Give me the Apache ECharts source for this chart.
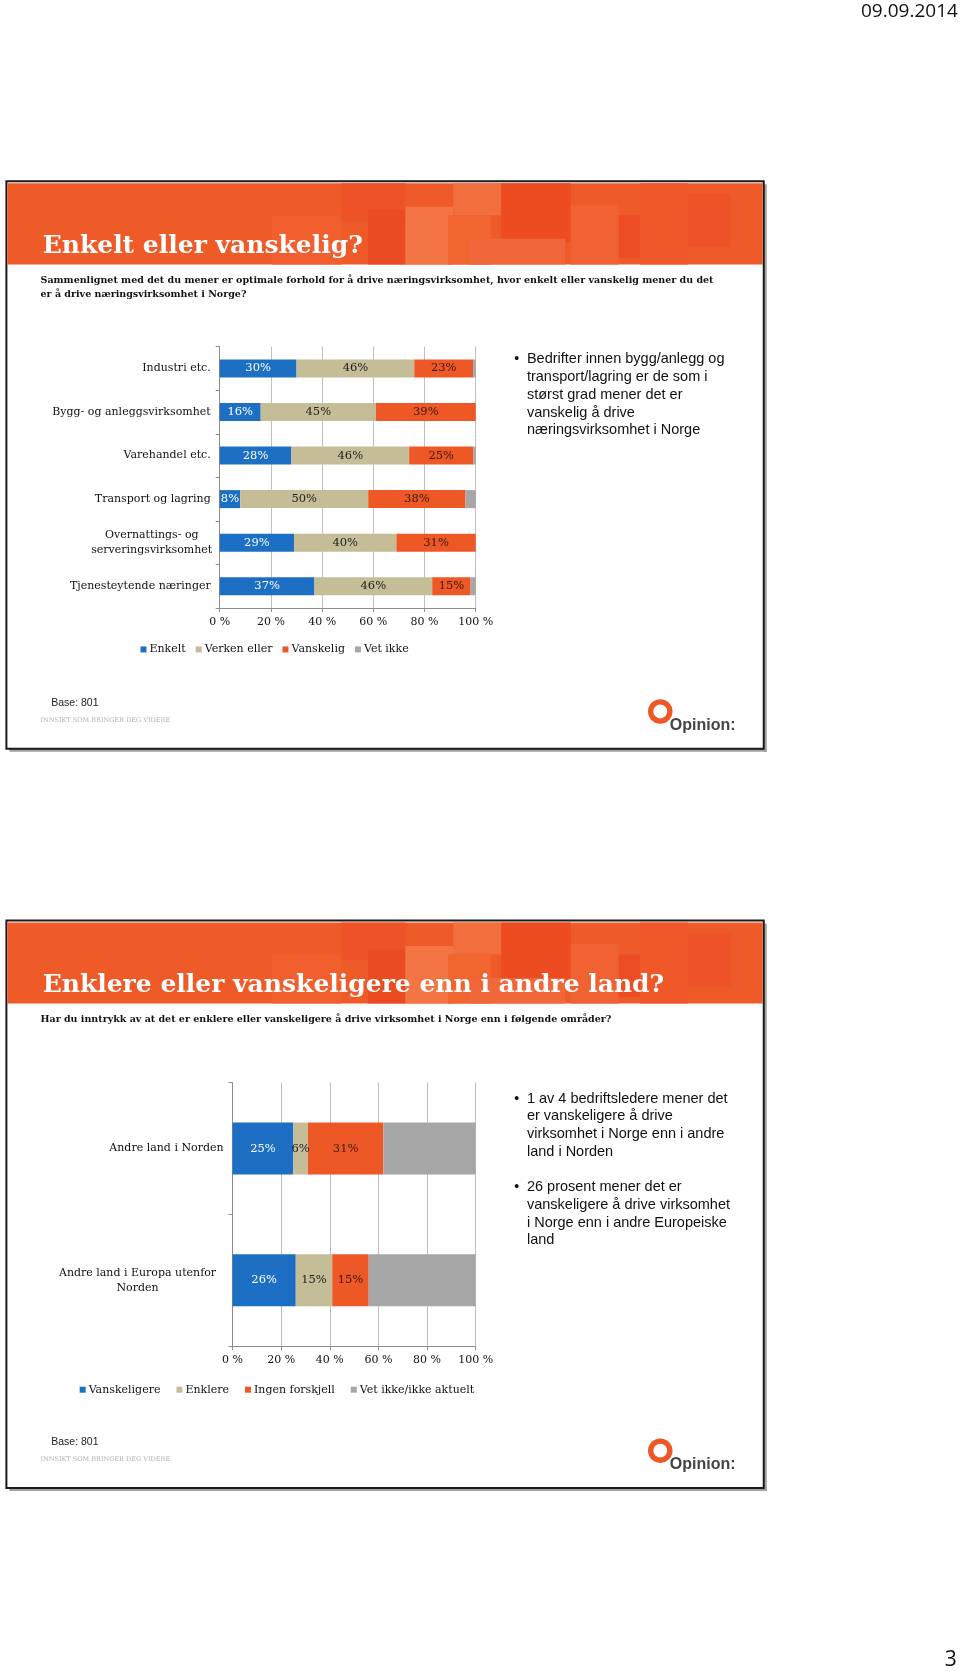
<!DOCTYPE html>
<html><head><meta charset="utf-8">
<script src="https://cdn.jsdelivr.net/npm/echarts@6/dist/echarts.min.js"></script>
<style>html,body{margin:0;padding:0;background:#fff}#c{width:960px;height:1672px}</style>
</head><body><div id="c"></div>
<script>
// ---- Chart 1 data ----
const cats1 = ['Industri etc.', 'Bygg- og anleggsvirksomhet', 'Varehandel etc.', 'Transport og lagring', 'Overnattings- og\nserveringsvirksomhet', 'Tjenesteytende næringer'];
const enkelt1 = [30, 16, 28, 8, 29, 37];
const verken1 = [46, 45, 46, 50, 40, 46];
const vansk1 = [23, 39, 25, 38, 31, 15];
const vetikke1 = [1, 0, 1, 4, 0, 2];
const names1 = ['Enkelt', 'Verken eller', 'Vanskelig', 'Vet ikke'];
// ---- Chart 2 data ----
const cats2 = ['Andre land i Norden', 'Andre land i Europa utenfor\nNorden'];
const vanskeligere2 = [25, 26];
const enklere2 = [6, 15];
const ingen2 = [31, 15];
const vetikke2 = [38, 44];
const names2 = ['Vanskeligere', 'Enklere', 'Ingen forskjell', 'Vet ikke/ikke aktuelt'];
const tickValues = [0, 20, 40, 60, 80, 100];

const COLORS = ['#1C6FC2', '#C4BD97', '#EE5826', '#A6A6A6'];
const SERIF = '"DejaVu Serif", "Liberation Serif", serif';
const SANS = '"Liberation Sans", Arial, sans-serif';
const K = 960 / 900;
const s = v => v * K;

const chart = echarts.init(document.getElementById('c'), null, {renderer: 'canvas'});

function slideGraphics(y0, title, subLines) {
  const g = [];
  const W = s(710), H = s(532), X = s(6), Y = s(y0);
  g.push({type: 'rect', shape: {x: X + 3, y: Y + H, width: W, height: 3}, style: {fill: '#a0a0a0'}, z: 0});
  g.push({type: 'rect', shape: {x: X + W, y: Y + 3, width: 3, height: H}, style: {fill: '#a0a0a0'}, z: 0});
  g.push({type: 'rect', shape: {x: X, y: Y, width: W, height: H}, style: {fill: 'none', stroke: '#1a1a1a', lineWidth: 2}, z: 1});
  const hy = Y + 2;
  g.push({type: 'rect', shape: {x: X + 1, y: hy, width: W - 2, height: s(76)}, style: {fill: '#EF5A29'}, z: 2});
  const tiles = [
    [320, 0, 60, 35, '#ED5326'], [345, 25, 35, 51, '#EA4B20'], [380, 22, 45, 54, '#F37544'],
    [425, 0, 45, 30, '#F26E3C'], [420, 30, 40, 46, '#F1652F'], [470, 0, 65, 55, '#EC4C20'],
    [535, 20, 45, 56, '#F06232'], [580, 30, 30, 40, '#EC4D22'], [600, 0, 45, 76, '#F0582A'],
    [645, 10, 40, 50, '#ED5326'], [255, 30, 65, 46, '#F05F2D'], [440, 52, 90, 24, '#F1673A']
  ];
  tiles.forEach(t => g.push({type: 'rect', shape: {x: s(t[0]), y: hy + s(t[1]), width: s(t[2]), height: s(t[3])}, style: {fill: t[4]}, z: 3}));
  g.push({type: 'text', x: s(40), y: hy + s(59), style: {text: title, font: 'bold 25px ' + SERIF, fill: '#fff', verticalAlign: 'middle'}, z: 5});
  subLines.forEach((t, i) => g.push({type: 'text', x: s(38), y: s(y0 + 93 + i * 13), style: {text: t, font: 'bold 9.5px ' + SERIF, fill: '#111', verticalAlign: 'middle'}, z: 5}));
  return g;
}
function footer(yb) {
  return [
    {type: 'text', x: s(48), y: s(yb), style: {text: 'Base: 801', font: '10.5px ' + SANS, fill: '#222', verticalAlign: 'middle'}, z: 5},
    {type: 'text', x: s(38), y: s(yb + 16), style: {text: 'INNSIKT SOM BRINGER DEG VIDERE', font: '6.5px ' + SERIF, fill: '#b0b0b0', verticalAlign: 'middle'}, z: 5},
    {type: 'ring', shape: {cx: s(619), cy: s(yb + 8), r: s(11.5), r0: s(6.5)}, style: {fill: '#EE5826'}, z: 5},
    {type: 'text', x: s(628), y: s(yb + 21), style: {text: 'Opinion:', font: 'bold 16px ' + SANS, fill: '#444', verticalAlign: 'middle'}, z: 6}
  ];
}
function bullets(x, y, groups) {
  const g = [];
  let yy = y;
  groups.forEach(lines => {
    g.push({type: 'text', x: s(x), y: s(yy), style: {text: '•', font: '14px ' + SANS, fill: '#111', verticalAlign: 'middle'}, z: 5});
    lines.forEach((l, i) => g.push({type: 'text', x: s(x + 12), y: s(yy + i * 16.6), style: {text: l, font: '14.5px ' + SANS, fill: '#111', verticalAlign: 'middle'}, z: 5}));
    yy += lines.length * 16.6 + 16.6;
  });
  return g;
}

let graphics = [];
graphics = graphics.concat(slideGraphics(170, 'Enkelt eller vanskelig?', [
  'Sammenlignet med det du mener er optimale forhold for å drive næringsvirksomhet, hvor enkelt eller vanskelig mener du det',
  'er å drive næringsvirksomhet i Norge?']));
graphics = graphics.concat(slideGraphics(863, 'Enklere eller vanskeligere enn i andre land?', [
  'Har du inntrykk av at det er enklere eller vanskeligere å drive virksomhet i Norge enn i følgende områder?']));
graphics = graphics.concat(footer(659), footer(1352));
graphics = graphics.concat(bullets(482, 337, [['Bedrifter innen bygg/anlegg og', 'transport/lagring er de som i', 'størst grad mener det er', 'vanskelig å drive', 'næringsvirksomhet i Norge']]));
graphics = graphics.concat(bullets(482, 1030, [
  ['1 av 4 bedriftsledere mener det', 'er vanskeligere å drive', 'virksomhet i Norge enn i andre', 'land i Norden'],
  ['26 prosent mener det er', 'vanskeligere å drive virksomhet', 'i Norge enn i andre Europeiske', 'land']]));
graphics.push({type: 'text', x: s(898), y: s(11), style: {text: '09.09.2014', font: '19px "Open Sans", ' + SANS, fill: '#111', align: 'right', verticalAlign: 'middle'}, z: 5});
graphics.push({type: 'text', x: s(897), y: s(1556), style: {text: '3', font: '21px "Open Sans", ' + SANS, fill: '#111', align: 'right', verticalAlign: 'middle'}, z: 5});

function catLabel(wrapWidth) {
  return {
    fontFamily: SERIF, fontSize: 11, color: '#111', margin: 9,
    formatter: function (v) {
      if (v.indexOf('\n') >= 0) return v.split('\n').map(t => '{c|' + t + '}').join('\n');
      return v;
    },
    rich: {c: {width: wrapWidth, align: 'center', fontFamily: SERIF, fontSize: 11, color: '#111', lineHeight: 15}}
  };
}
function valAxis(gi) {
  return {
    gridIndex: gi, type: 'value', min: 0, max: 100, interval: 20,
    axisLine: {show: true, lineStyle: {color: '#8c8c8c'}},
    axisTick: {show: true, length: 4, lineStyle: {color: '#8c8c8c'}},
    splitLine: {show: true, lineStyle: {color: '#bfbfbf'}},
    axisLabel: {formatter: v => (tickValues.indexOf(v) >= 0 ? v + ' %' : ''), fontFamily: SERIF, fontSize: 11, color: '#111', margin: 9}
  };
}
function catAxis(gi, data, w) {
  return {
    gridIndex: gi, type: 'category', inverse: true, data: data,
    axisLine: {show: true, lineStyle: {color: '#8c8c8c'}},
    axisTick: {show: true, length: 4, lineStyle: {color: '#8c8c8c'}},
    axisLabel: catLabel(w)
  };
}
const labelColors = ['#fff', '#222', '#3a1a10', '#222'];
function mkSeries(name, data, idx, xi, barW) {
  return {
    name: name, type: 'bar', stack: 's' + xi, xAxisIndex: xi, yAxisIndex: xi, data: data, barWidth: barW,
    itemStyle: {color: COLORS[idx]},
    label: {show: idx < 3, position: 'inside', formatter: p => (p.value > 0 ? p.value + '%' : ''),
      fontFamily: SERIF, fontSize: 11.5, color: labelColors[idx]},
    emphasis: {disabled: true}
  };
}

const option = {
  animation: false,
  graphic: graphics,
  grid: [
    {left: s(206), top: s(325), width: s(240), height: s(245)},
    {left: s(218), top: s(1015), width: s(228), height: s(247)}
  ],
  xAxis: [valAxis(0), valAxis(1)],
  yAxis: [catAxis(0, cats1, 118), catAxis(1, cats2, 172)],
  legend: [
    {data: names1, left: s(127), top: s(599), icon: 'rect', itemWidth: 6, itemHeight: 6, itemGap: 10,
      textStyle: {fontFamily: SERIF, fontSize: 11, color: '#111', padding: [0, 0, 0, -2]}, selectedMode: false},
    {data: names2, left: s(70), top: s(1293), icon: 'rect', itemWidth: 6, itemHeight: 6, itemGap: 16,
      textStyle: {fontFamily: SERIF, fontSize: 11, color: '#111', padding: [0, 0, 0, -2]}, selectedMode: false}
  ],
  series: [
    mkSeries(names1[0], enkelt1, 0, 0, 18), mkSeries(names1[1], verken1, 1, 0, 18),
    mkSeries(names1[2], vansk1, 2, 0, 18), mkSeries(names1[3], vetikke1, 3, 0, 18),
    mkSeries(names2[0], vanskeligere2, 0, 1, 52), mkSeries(names2[1], enklere2, 1, 1, 52),
    mkSeries(names2[2], ingen2, 2, 1, 52), mkSeries(names2[3], vetikke2, 3, 1, 52)
  ]
};
chart.setOption(option);
</script></body></html>
